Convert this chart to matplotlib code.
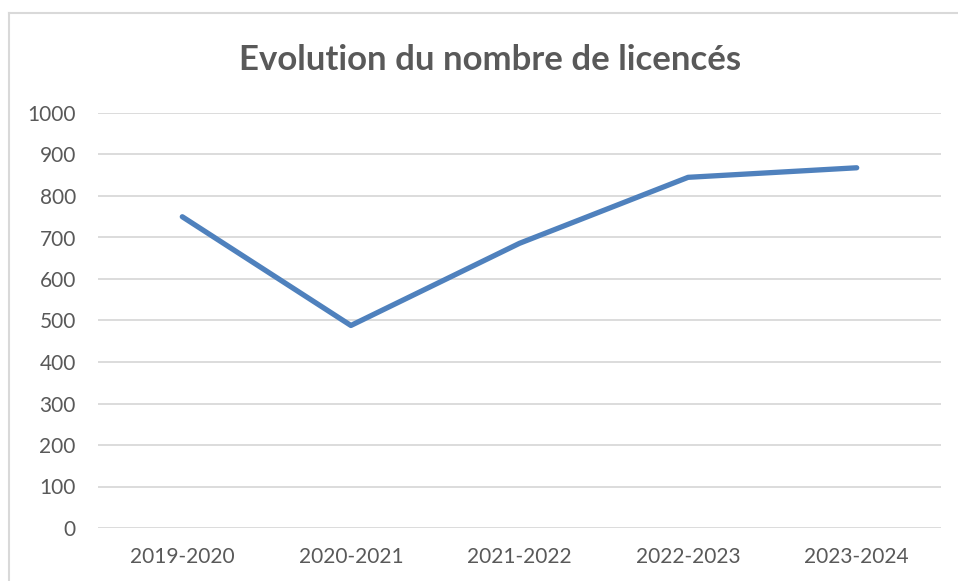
import matplotlib.pyplot as plt
from matplotlib.lines import Line2D

# data
seasons = ["2019-2020", "2020-2021", "2021-2022", "2022-2023", "2023-2024"]
licencies = [750, 488, 686, 845, 868]
y_ticks = list(range(0, 1001, 100))

grey_text = "#595959"
grid_col = "#D9D9D9"
line_col = "#4F81BD"

plt.rcParams['font.family'] = ['Lato', 'DejaVu Sans']

fig = plt.figure(figsize=(9.58, 5.81), dpi=100)
W, H = 958, 581
ax = fig.add_axes([98 / W, 1 - 528 / H, (941 - 98) / W, (528 - 113) / H])

x = list(range(len(seasons)))
ax.plot(x, licencies, color=line_col, lw=3.8, solid_capstyle='round',
        solid_joinstyle='round', zorder=3)

ax.set_xlim(-0.5, len(seasons) - 0.5)
ax.set_ylim(0, 1000)
ax.set_yticks(y_ticks)
ax.set_xticks(x)
ax.set_xticklabels(seasons)
ax.yaxis.grid(True, color=grid_col, lw=1.3)
ax.set_axisbelow(True)
for s in ax.spines.values():
    s.set_visible(False)
ax.tick_params(axis='both', length=0, labelsize=15, labelcolor=grey_text)
ax.tick_params(axis='y', pad=16)
ax.tick_params(axis='x', pad=14)

# title
fig.text(490 / W, 1 - 70 / H, "Evolution du nombre de licencés",
         ha='center', va='baseline', fontsize=25, fontweight='bold',
         color=grey_text)

# chart frame (cropped on the right and bottom)
top = 1 - 13 / H
left = 9 / W
fig.add_artist(Line2D([left, left], [0, top], color=grid_col, lw=1.5,
                      transform=fig.transFigure))
fig.add_artist(Line2D([left, 1], [top, top], color=grid_col, lw=1.5,
                      transform=fig.transFigure))

fig.savefig("out.png", dpi=100)
